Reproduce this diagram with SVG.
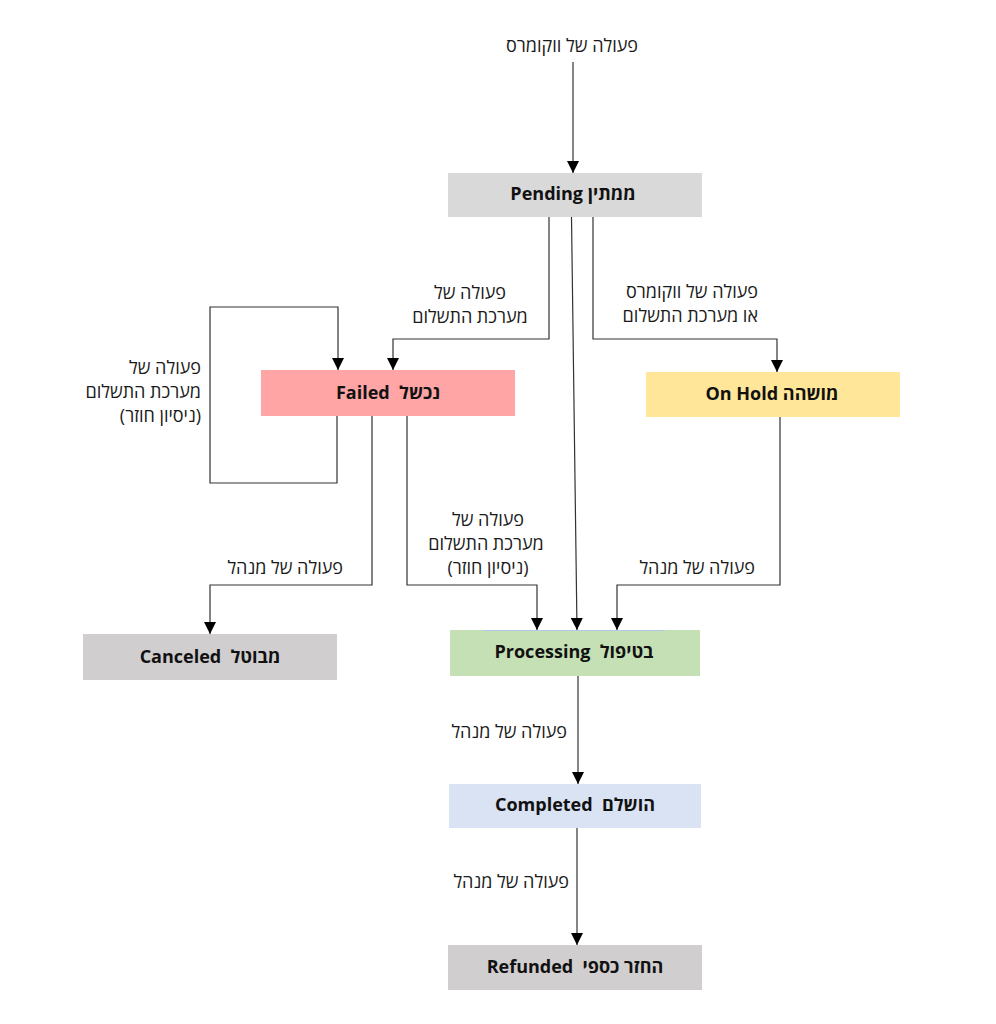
<svg xmlns="http://www.w3.org/2000/svg" width="996" height="1024" viewBox="0 0 996 1024">
<defs>
<marker id="arr" markerUnits="userSpaceOnUse" markerWidth="13" markerHeight="12" refX="12" refY="6" orient="auto" viewBox="0 0 13 12">
<path d="M0,0 L12,6 L0,12 Z" fill="#000"/>
</marker>
<style>
.conn{fill:none;stroke:#333;stroke-width:1.2}
.arr{marker-end:url(#arr)}
.lbl{font-family:"Open Sans","Noto Sans",sans-serif;font-size:18px;fill:#1a1a1a}
.box text{font-family:"Open Sans","Noto Sans",sans-serif;font-size:18px;font-weight:bold;fill:#111;text-anchor:middle;white-space:pre}
</style>
</defs>
<rect width="996" height="1024" fill="#fff"/>
<g id="connectors">
<path class="conn arr" d="M573,62 V173"/>
<path class="conn arr" d="M549,217 V339 H393 V370"/>
<path class="conn arr" d="M593,217 V339 H777 V372"/>
<path class="conn arr" d="M571.5,217 L577,630"/>
<path class="conn arr" d="M337,416 V483 H210 V307 H338 V370"/>
<path class="conn arr" d="M372,416 V585 H210 V634"/>
<path class="conn arr" d="M407,416 V585 H537 V630"/>
<path class="conn arr" d="M780,417 V585 H617 V630"/>
<path class="conn arr" d="M578,676 V784"/>
<path class="conn arr" d="M577,828 V945"/>
</g>
<g id="labels" class="lbl">
<text x="572" y="52" text-anchor="middle" direction="rtl" class="lbl">פעולה של ווקומרס</text>
<text x="470" y="299" text-anchor="middle" direction="rtl" class="lbl">פעולה של</text>
<text x="470" y="323" text-anchor="middle" direction="rtl" class="lbl">מערכת התשלום</text>
<text x="758" y="298" text-anchor="start" direction="rtl" class="lbl">פעולה של ווקומרס</text>
<text x="758" y="322" text-anchor="start" direction="rtl" class="lbl">או מערכת התשלום</text>
<text x="201" y="374" text-anchor="start" direction="rtl" class="lbl">פעולה של</text>
<text x="201" y="398" text-anchor="start" direction="rtl" class="lbl">מערכת התשלום</text>
<text x="201" y="422" text-anchor="start" direction="rtl" class="lbl">(ניסיון חוזר)</text>
<text x="343" y="574" text-anchor="start" direction="rtl" class="lbl">פעולה של מנהל</text>
<text x="488" y="526" text-anchor="middle" direction="rtl" class="lbl">פעולה של</text>
<text x="486" y="550" text-anchor="middle" direction="rtl" class="lbl">מערכת התשלום</text>
<text x="488" y="574" text-anchor="middle" direction="rtl" class="lbl">(ניסיון חוזר)</text>
<text x="755" y="574" text-anchor="start" direction="rtl" class="lbl">פעולה של מנהל</text>
<text x="567" y="738" text-anchor="start" direction="rtl" class="lbl">פעולה של מנהל</text>
<text x="569" y="888" text-anchor="start" direction="rtl" class="lbl">פעולה של מנהל</text>
</g>
<g id="pending" class="box">
<rect x="448" y="173" width="254" height="44" fill="#d9d9d9"/>
<text x="573" y="200" direction="rtl">ממתין Pending</text>
</g>
<g id="failed" class="box">
<rect x="261" y="370" width="254" height="46" fill="#ffa5a6"/>
<text x="388" y="399" direction="rtl">נכשל  Failed</text>
</g>
<g id="onhold" class="box">
<rect x="646" y="372" width="254" height="45" fill="#ffe699"/>
<text x="772" y="400" direction="rtl">מושהה On Hold</text>
</g>
<g id="canceled" class="box">
<rect x="83" y="634" width="254" height="46" fill="#d0cece"/>
<text x="210" y="663" direction="rtl">מבוטל  Canceled</text>
</g>
<g id="processing" class="box">
<rect x="450" y="630" width="250" height="46" fill="#c5e0b4"/>
<line x1="483" y1="630.5" x2="665" y2="630.5" stroke="#b4c7e7" stroke-width="1"/>
<text x="574" y="658" direction="rtl">בטיפול  Processing</text>
</g>
<g id="completed" class="box">
<rect x="449" y="784" width="252" height="44" fill="#dae3f3"/>
<text x="575" y="811" direction="rtl">הושלם  Completed</text>
</g>
<g id="refunded" class="box">
<rect x="448" y="945" width="254" height="45" fill="#d0cece"/>
<text x="575" y="973" direction="rtl">החזר כספי  Refunded</text>
</g>
</svg>
